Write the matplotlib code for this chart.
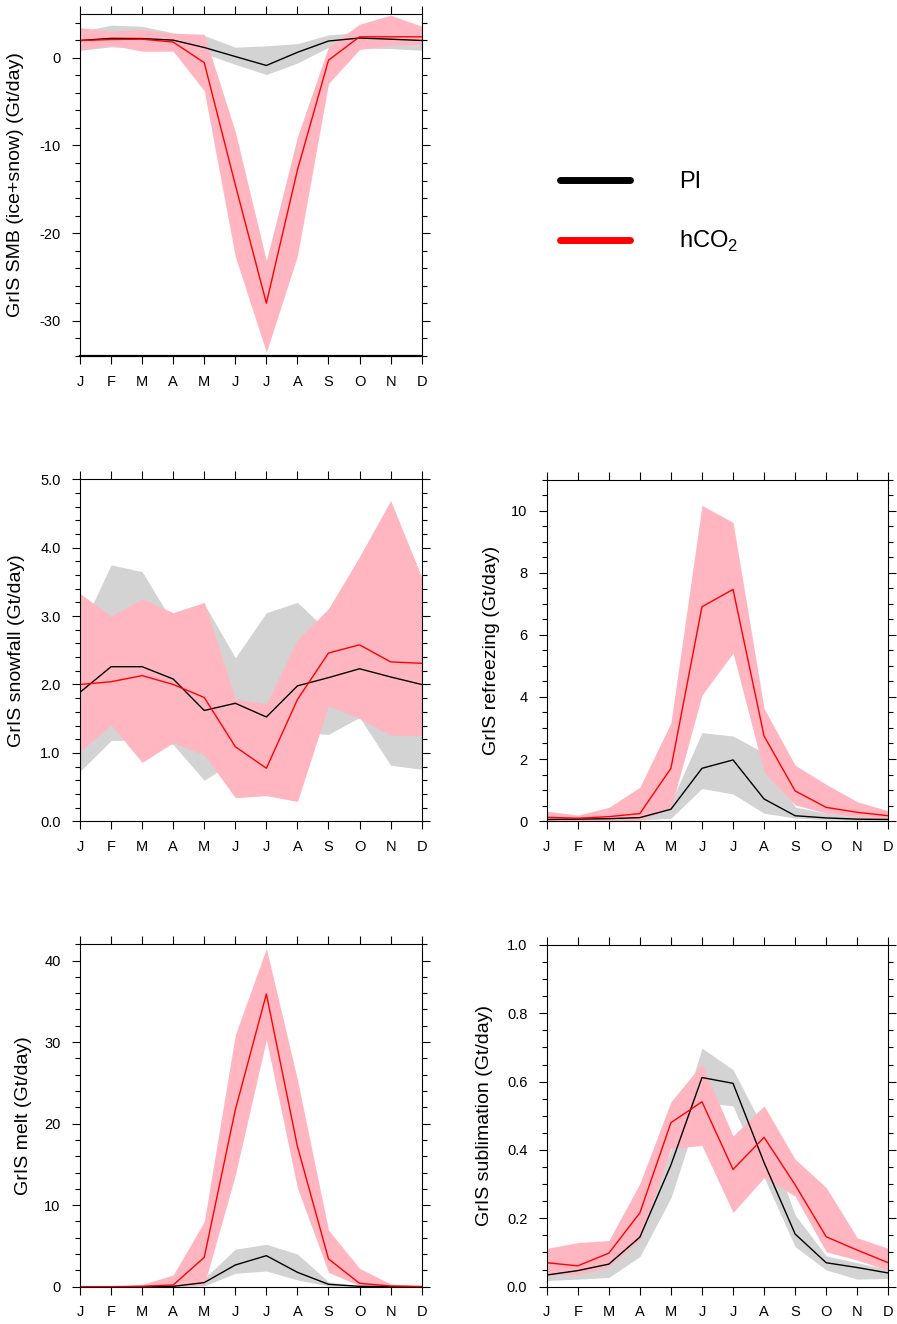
import matplotlib
matplotlib.use('Agg')
import matplotlib.pyplot as plt
from matplotlib.lines import Line2D
from matplotlib.ticker import MultipleLocator, FormatStrFormatter

plt.rcParams['font.family'] = ['Liberation Sans', 'DejaVu Sans']
plt.rcParams['axes.unicode_minus'] = False
plt.rcParams['mathtext.fontset'] = 'custom'
plt.rcParams['mathtext.rm'] = 'Liberation Sans'

months = ['J', 'F', 'M', 'A', 'M', 'J', 'J', 'A', 'S', 'O', 'N', 'D']

# SMB (ice+snow)
pi_smb = [1.98, 2.22, 2.2, 2.02, 1.18, 0.15, -0.87, 0.63, 1.92, 2.26, 2.13, 1.98]
pi_smb_hi = [3.0, 3.73, 3.6, 2.85, 2.55, 1.22, 1.37, 1.62, 2.62, 2.9, 2.9, 2.9]
pi_smb_lo = [0.87, 1.25, 1.14, 1.1, 0.5, -0.75, -1.9, -0.6, 1.2, 1.1, 1.06, 0.87]
hc_smb = [1.98, 2.09, 2.13, 1.8, -0.55, -14.5, -28.0, -12.8, -0.27, 2.4, 2.4, 2.4]
hc_smb_hi = [3.46, 3.04, 3.23, 2.78, 2.7, -8.44, -23.15, -9.0, 1.25, 3.84, 4.87, 3.61]
hc_smb_lo = [0.87, 1.44, 0.76, 0.76, -3.76, -22.7, -33.6, -22.6, -2.93, 0.95, 1.44, 1.56]

# snowfall
pi_snow = [1.886, 2.26, 2.26, 2.08, 1.62, 1.725, 1.525, 1.98, 2.1, 2.23, 2.11, 2.0]
pi_snow_hi = [2.78, 3.75, 3.65, 2.9, 3.18, 2.39, 3.05, 3.2, 2.77, 2.9, 3.0, 2.9]
pi_snow_lo = [0.73, 1.18, 1.19, 1.12, 0.6, 0.89, 1.0, 1.3, 1.27, 1.52, 0.82, 0.76]
hc_snow = [2.0, 2.04, 2.13, 2.0, 1.81, 1.09, 0.775, 1.78, 2.46, 2.58, 2.33, 2.31]
hc_snow_hi = [3.33, 3.0, 3.25, 3.05, 3.2, 1.79, 1.72, 2.65, 3.11, 3.87, 4.69, 3.57]
hc_snow_lo = [1.02, 1.41, 0.86, 1.15, 0.97, 0.345, 0.375, 0.29, 1.69, 1.5, 1.26, 1.25]

# refreezing
pi_refr = [0.05, 0.06, 0.075, 0.11, 0.38, 1.70, 1.97, 0.71, 0.17, 0.1, 0.06, 0.05]
pi_refr_hi = [0.09, 0.08, 0.09, 0.14, 0.6, 2.85, 2.74, 2.2, 0.45, 0.25, 0.15, 0.1]
pi_refr_lo = [0.0, 0.0, 0.01, 0.03, 0.09, 1.05, 0.87, 0.25, 0.1, 0.04, 0.02, 0.01]
hc_refr = [0.12, 0.09, 0.14, 0.24, 1.70, 6.91, 7.47, 2.74, 0.97, 0.44, 0.28, 0.17]
hc_refr_hi = [0.32, 0.19, 0.44, 1.09, 3.17, 10.18, 9.63, 3.63, 1.8, 1.18, 0.62, 0.33]
hc_refr_lo = [0.01, 0.0, 0.01, 0.03, 0.4, 4.06, 5.42, 1.57, 0.52, 0.25, 0.14, 0.09]

# melt
pi_melt = [0, 0, 0, 0.04, 0.5, 2.66, 3.8, 1.76, 0.29, 0.04, 0, 0]
pi_melt_hi = [0, 0, 0.01, 0.08, 1.0, 4.6, 5.2, 4.0, 0.6, 0.08, 0.01, 0]
pi_melt_lo = [0, 0, 0, 0, 0.1, 1.64, 1.92, 0.82, 0.08, 0, 0, 0]
hc_melt = [0, 0, 0.04, 0.2, 3.6, 21.7, 35.9, 17.2, 3.4, 0.41, 0.08, 0.02]
hc_melt_hi = [0, 0.02, 0.29, 1.43, 7.98, 30.9, 41.5, 25.4, 6.95, 2.25, 0.33, 0.08]
hc_melt_lo = [0, 0, 0, 0, 0.2, 13.7, 30.3, 12.1, 1.76, 0.12, 0.02, 0]

# sublimation
pi_subl = [0.034, 0.047, 0.066, 0.145, 0.356, 0.612, 0.595, 0.363, 0.154, 0.07, 0.056, 0.04]
pi_subl_hi = [0.05, 0.06, 0.08, 0.17, 0.40, 0.698, 0.635, 0.46, 0.21, 0.09, 0.07, 0.05]
pi_subl_lo = [0.018, 0.022, 0.027, 0.088, 0.26, 0.539, 0.529, 0.32, 0.117, 0.049, 0.022, 0.024]
hc_subl = [0.07, 0.061, 0.098, 0.216, 0.48, 0.541, 0.343, 0.437, 0.298, 0.146, 0.107, 0.07]
hc_subl_hi = [0.112, 0.129, 0.135, 0.302, 0.541, 0.652, 0.441, 0.529, 0.373, 0.29, 0.143, 0.112]
hc_subl_lo = [0.037, 0.035, 0.058, 0.137, 0.405, 0.413, 0.217, 0.319, 0.265, 0.102, 0.078, 0.047]

pink = '#FFB6C1'
grey = '#D3D3D3'


def draw_panel(ax, pi, pi_lo, pi_hi, hc, hc_lo, hc_hi,
               ylim, major, minor, fmt, ylabel, label_x):
    x = list(range(12))
    ax.fill_between(x, pi_lo, pi_hi, color=grey, lw=0)
    ax.fill_between(x, hc_lo, hc_hi, color=pink, lw=0)
    ax.plot(x, pi, color='black', lw=1.0)
    ax.plot(x, hc, color='red', lw=1.0)

    ax.set_xlim(0, 11)
    ax.set_ylim(*ylim)
    ax.set_xticks(x)
    ax.set_xticklabels(months)
    ax.yaxis.set_major_locator(MultipleLocator(major))
    ax.yaxis.set_minor_locator(MultipleLocator(minor))
    ax.yaxis.set_major_formatter(FormatStrFormatter(fmt))

    ax.tick_params(which='both', direction='out', top=True, right=True,
                   width=0.8, labelsize=10.5)
    ax.tick_params(which='major', length=6)
    ax.tick_params(which='minor', length=3.5)
    ax.tick_params(axis='y', pad=8)
    ax.tick_params(axis='x', pad=7.5)
    for s in ax.spines.values():
        s.set_linewidth(0.8)

    ax.set_ylabel(ylabel, fontsize=14)
    ax.yaxis.set_label_coords(label_x, 0.5)


fig = plt.figure(figsize=(8.97, 13.24), dpi=100)

ax1 = fig.add_axes([0.0892, 0.7313, 0.3809, 0.2581])
ax2 = fig.add_axes([0.0892, 0.3797, 0.3809, 0.2583])
ax3 = fig.add_axes([0.6095, 0.3799, 0.3808, 0.2576])
ax4 = fig.add_axes([0.0892, 0.0282, 0.3809, 0.2586])
ax5 = fig.add_axes([0.6095, 0.0282, 0.3808, 0.2581])

draw_panel(ax1, pi_smb, pi_smb_lo, pi_smb_hi, hc_smb, hc_smb_lo, hc_smb_hi,
           (-34, 5), 10, 2, '%d', 'GrIS SMB (ice+snow) (Gt/day)', -0.164)
ax1.spines['bottom'].set_linewidth(1.6)
draw_panel(ax2, pi_snow, pi_snow_lo, pi_snow_hi, hc_snow, hc_snow_lo, hc_snow_hi,
           (0, 5), 1, 0.2, '%.1f', 'GrIS snowfall (Gt/day)', -0.161)
draw_panel(ax3, pi_refr, pi_refr_lo, pi_refr_hi, hc_refr, hc_refr_lo, hc_refr_hi,
           (0, 11), 2, 0.5, '%d', 'GrIS refreezing (Gt/day)', -0.137)
draw_panel(ax4, pi_melt, pi_melt_lo, pi_melt_hi, hc_melt, hc_melt_lo, hc_melt_hi,
           (0, 42), 10, 2, '%d', 'GrIS melt (Gt/day)', -0.141)
draw_panel(ax5, pi_subl, pi_subl_lo, pi_subl_hi, hc_subl, hc_subl_lo, hc_subl_hi,
           (0, 1), 0.2, 0.05, '%.1f', 'GrIS sublimation (Gt/day)', -0.156)

handles = [Line2D([], [], color='black', lw=5, solid_capstyle='round'),
           Line2D([], [], color='red', lw=5, solid_capstyle='round')]
fig.legend(handles, ['PI', 'hCO$_2$'], loc='upper left',
           bbox_to_anchor=(0.6243, 0.8705), frameon=False, fontsize=17,
           handlelength=2.95, handletextpad=2.1, labelspacing=1.5,
           borderpad=0, borderaxespad=0)

fig.savefig('out.png', dpi=100)
